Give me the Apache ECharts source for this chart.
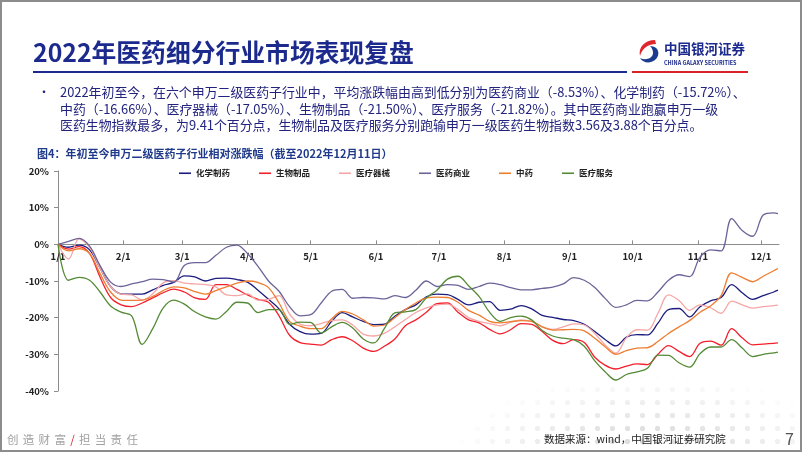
<!DOCTYPE html>
<html>
<head>
<meta charset="utf-8">
<script src="https://cdn.jsdelivr.net/npm/echarts@6/dist/echarts.min.js"></script>
<style>
html,body{margin:0;padding:0;background:#fff;}
#page{position:relative;width:802px;height:452px;overflow:hidden;background:#fff;font-family:"Noto Sans CJK SC","Noto Sans",sans-serif;}
#dots{position:absolute;left:440px;top:370px;width:362px;height:82px;z-index:0;
  background-image:radial-gradient(circle, #dedede 0, #dedede 2.3px, rgba(255,255,255,0) 3px);
  background-size:15px 13px;
  -webkit-mask-image:radial-gradient(ellipse 55% 95% at 58% 100%, rgba(0,0,0,1) 25%, rgba(0,0,0,0) 100%);
  mask-image:radial-gradient(ellipse 55% 95% at 58% 100%, rgba(0,0,0,1) 25%, rgba(0,0,0,0) 100%);}
#chart{position:absolute;left:0;top:0;width:802px;height:452px;z-index:1;}
#frame{position:absolute;left:0;top:0;width:802px;height:452px;box-sizing:border-box;border:2px solid #8c8c8c;pointer-events:none;z-index:5;}
.t{position:absolute;white-space:nowrap;z-index:3;}
.p{font-size:12.9px;color:#22237e;line-height:16.5px;left:60px;}
</style>
</head>
<body>
<div id="page">
  <div id="dots"></div>
  <div id="chart"></div>
  <div class="t" style="left:33px;top:35px;font-size:24.8px;font-weight:700;color:#1b2a8c;line-height:33px;">2022年医药细分行业市场表现复盘</div>
  <svg class="t" style="left:638px;top:39px" width="24" height="26" viewBox="0 0 24 26">
    <path d="M17 1 C7 1 0 8 2 17 C4 10 9 5 18 5 Z" fill="#e0262d"/>
    <path d="M12 7 C21 7 23 16 17 21 C12 25 5 24 2 19 C8 22 15 19 15 14 C15 11 14 9 12 7 Z" fill="#1b3b8f"/>
  </svg>
  <div class="t" style="left:664px;top:40px;font-size:13.5px;font-weight:700;color:#1b2a8c;line-height:17px;">中国银河证券</div>
  <div class="t" style="left:664px;top:60px;font-size:5.5px;font-weight:700;color:#1b2a8c;line-height:7px;">CHINA GALAXY SECURITIES</div>
  <div class="t" style="left:33px;top:71px;width:594px;height:2px;background:#1b2a8c;"></div>
  <div class="t" style="left:632px;top:71px;width:116px;height:2px;background:#d8232a;"></div>
  <div class="t" style="left:38px;top:84px;font-size:12px;color:#22237e;line-height:16px;">•</div>
  <div class="t p" style="top:84px;">2022年初至今，在六个申万二级医药子行业中，平均涨跌幅由高到低分别为医药商业（-8.53%）、化学制药（-15.72%）、</div>
  <div class="t p" style="top:100.5px;">中药（-16.66%）、医疗器械（-17.05%）、生物制品（-21.50%）、医疗服务（-21.82%）。其中医药商业跑赢申万一级</div>
  <div class="t p" style="top:117px;">医药生物指数最多，为9.41个百分点，生物制品及医疗服务分别跑输申万一级医药生物指数3.56及3.88个百分点。</div>
  <div class="t" style="left:37px;top:145px;font-size:11px;font-weight:700;color:#1f3a8a;line-height:16px;">图4：年初至今申万二级医药子行业相对涨跌幅（截至2022年12月11日）</div>
  <div class="t" style="left:7px;top:431px;font-size:11.5px;color:#a0a0a0;line-height:16px;letter-spacing:4.3px;">创造财富<span style="color:#d8232a">/</span>担当责任</div>
  <div class="t" style="left:544px;top:431px;font-size:10.5px;color:#222;line-height:16px;">数据来源：wind，中国银河证券研究院</div>
  <div class="t" style="left:785px;top:428px;font-size:16px;color:#555;line-height:20px;">7</div>
  <div id="frame"></div>
</div>
<script>
// Dates (5-day sampling through 2022-12-09)
const dates = [
'2022-01-01','2022-01-06','2022-01-11','2022-01-16','2022-01-21','2022-01-26','2022-01-31',
'2022-02-05','2022-02-10','2022-02-15','2022-02-20','2022-02-25',
'2022-03-02','2022-03-07','2022-03-12','2022-03-17','2022-03-22','2022-03-27',
'2022-04-01','2022-04-06','2022-04-11','2022-04-16','2022-04-21','2022-04-26',
'2022-05-01','2022-05-06','2022-05-11','2022-05-16','2022-05-21','2022-05-26','2022-05-31',
'2022-06-05','2022-06-10','2022-06-15','2022-06-20','2022-06-25','2022-06-30',
'2022-07-05','2022-07-10','2022-07-15','2022-07-20','2022-07-25','2022-07-30',
'2022-08-04','2022-08-09','2022-08-14','2022-08-19','2022-08-24','2022-08-29',
'2022-09-03','2022-09-08','2022-09-13','2022-09-18','2022-09-23','2022-09-28',
'2022-10-03','2022-10-08','2022-10-13','2022-10-18','2022-10-23','2022-10-28',
'2022-11-02','2022-11-07','2022-11-12','2022-11-17','2022-11-22','2022-11-27',
'2022-12-02','2022-12-07','2022-12-09'
];

// 化学制药
const chemPharma = [
0,-0.8,-0.2,-1.5,-6.5,-11.5,-13.5,
-13.6,-13.6,-12.4,-11.2,-10.4,
-8.6,-8.9,-10.0,-9.3,-9.2,-9.6,
-10.3,-12.5,-15.0,-17.6,-21.8,-23.8,
-24.5,-24.3,-21.0,-18.6,-19.8,-21.0,-21.9,
-21.8,-19.6,-17.8,-16.5,-14.3,-13.6,
-13.7,-15.0,-16.5,-15.8,-15.6,-18.0,
-17.7,-16.7,-17.6,-19.4,-19.9,-20.5,
-20.8,-21.8,-23.8,-26.0,-27.7,-25.3,
-24.6,-24.7,-21.5,-17.8,-17.5,-19.8,
-17.0,-15.4,-14.5,-11.0,-13.2,-15.0,
-14.0,-13.0,-12.5
];

// 生物制品
const biologics = [
0,-1.3,-0.6,-2.5,-9.0,-14.5,-16.5,
-17.0,-16.0,-14.6,-13.2,-12.2,
-13.0,-14.6,-15.0,-11.0,-11.0,-12.3,
-13.8,-15.0,-15.8,-19.5,-24.8,-26.8,
-27.2,-27.5,-26.0,-25.2,-26.3,-28.3,-29.2,
-27.8,-25.8,-22.2,-20.6,-18.5,-16.2,
-16.0,-18.5,-20.6,-21.4,-23.2,-24.4,
-23.3,-21.6,-21.8,-23.8,-26.2,-27.1,
-26.0,-26.8,-30.8,-33.0,-34.0,-33.2,
-32.6,-32.8,-30.0,-27.6,-29.2,-30.6,
-27.0,-26.4,-27.5,-23.0,-25.5,-27.4,
-27.2,-27.0,-26.9
];

// 医疗器械
const medDevices = [
0,-4.0,1.5,-0.8,-6.5,-11.5,-13.6,
-13.8,-15.2,-13.5,-10.5,-9.9,
-10.6,-10.8,-11.0,-11.6,-13.8,-14.0,
-13.5,-15.2,-15.0,-14.0,-19.0,-21.8,
-22.2,-21.6,-20.8,-20.6,-22.0,-24.5,-25.0,
-24.3,-22.5,-20.5,-18.6,-17.3,-16.5,
-16.3,-17.8,-20.0,-21.0,-21.6,-22.2,
-21.3,-20.6,-21.0,-22.5,-23.2,-22.5,
-21.7,-22.0,-24.3,-27.5,-29.7,-25.5,
-23.3,-23.4,-18.8,-13.8,-15.3,-18.0,
-16.5,-17.3,-18.8,-15.5,-16.5,-17.4,
-17.0,-16.7,-16.6
];

// 医药商业
const pharmaCommerce = [
0,0.8,1.6,-0.5,-5.8,-10.3,-11.5,
-10.8,-10.2,-9.5,-9.6,-10.3,
-5.8,-5.0,-5.0,-3.0,-0.8,-0.2,
-2.5,-6.0,-10.0,-12.8,-17.0,-19.5,
-19.2,-16.0,-12.8,-12.3,-14.7,-14.5,-14.6,
-14.9,-14.0,-14.5,-12.5,-10.0,-11.5,
-11.0,-11.2,-12.3,-11.5,-10.6,-11.0,
-11.8,-12.4,-12.4,-12.0,-11.7,-10.8,
-9.1,-9.8,-11.8,-14.8,-17.2,-16.5,
-15.3,-15.4,-13.0,-9.8,-8.3,-8.8,
-3.5,-1.5,-1.8,7.0,3.8,2.2,
8.0,8.6,8.4
];

// 中药
const tcm = [
0,-1.8,-1.2,-2.5,-8.0,-13.0,-15.2,
-15.3,-15.2,-14.2,-12.6,-11.6,
-11.9,-12.9,-13.6,-12.6,-11.6,-10.6,
-10.0,-10.4,-11.8,-16.0,-21.0,-22.3,
-23.0,-23.0,-20.3,-18.3,-19.0,-20.6,-22.3,
-22.0,-20.0,-17.8,-16.0,-14.6,-14.4,
-14.5,-15.8,-18.0,-19.3,-21.0,-21.4,
-21.1,-20.8,-21.0,-22.5,-23.4,-23.3,
-23.2,-23.6,-25.6,-28.0,-30.0,-29.0,
-28.3,-28.2,-26.5,-24.3,-22.5,-20.8,
-18.5,-16.8,-14.0,-7.8,-9.0,-10.2,
-8.7,-7.2,-6.6
];

// 医疗服务
const medServices = [
0,-9.8,-9.0,-9.8,-13.0,-16.8,-18.5,
-19.5,-27.3,-23.0,-17.3,-15.2,
-16.3,-18.4,-19.8,-20.4,-18.3,-15.8,
-16.0,-18.6,-17.8,-17.8,-21.8,-21.2,
-21.3,-24.2,-22.5,-21.3,-22.8,-25.8,-26.9,
-23.0,-18.7,-18.4,-17.8,-14.6,-12.5,
-9.5,-8.7,-11.3,-14.2,-18.5,-21.0,
-20.0,-19.6,-20.6,-23.5,-25.0,-25.6,
-26.0,-27.8,-31.8,-34.8,-37.0,-35.5,
-34.8,-33.8,-30.2,-30.3,-32.3,-33.5,
-29.8,-28.0,-28.0,-26.0,-28.3,-30.6,
-30.0,-29.6,-29.4
];

const seriesNames = ['化学制药','生物制品','医疗器械','医药商业','中药','医疗服务'];
const seriesValues = [chemPharma, biologics, medDevices, pharmaCommerce, tcm, medServices];
const seriesColors = ['#1c1c7e','#f3202c','#f5a6a6','#6c6499','#ee7d31','#548a36'];
const monthTickDates = ['2022-01-01','2022-02-01','2022-03-01','2022-04-01','2022-05-01','2022-06-01','2022-07-01','2022-08-01','2022-09-01','2022-10-01','2022-11-01','2022-12-01'];
const yMin = -40, yMax = 20, yStep = 10;

function toLocalTs(s){const p=s.split('-');return new Date(+p[0],+p[1]-1,+p[2]).getTime();}
const monthTicks = monthTickDates.map(toLocalTs);
const xMin = toLocalTs('2022-01-01');
const xMax = toLocalTs('2022-12-09') + 12*3600*1000;

const gridTop = 171, gridBottom = 61, pageH = 452;
// lift the x axis from the bottom of the grid up to the 0% level
const plotH = pageH - gridTop - gridBottom;
const zeroOffset = -plotH * (0 - yMin) / (yMax - yMin);

const font = '"Noto Sans CJK SC","Noto Sans",sans-serif';
function mdFmt(v){const d=new Date(v);return (d.getMonth()+1)+'/'+d.getDate();}

function buildOption(useCustom){
  const common = {
    axisLine:{onZero:false,lineStyle:{color:'#8c8c8c',width:1}},
    offset:zeroOffset,
    splitLine:{show:false}
  };
  const xAxis = useCustom ? Object.assign({
    type:'value', min:xMin, max:xMax,
    axisTick:{show:true,inside:true,length:4,lineStyle:{color:'#8c8c8c'},customValues:monthTicks},
    axisLabel:{customValues:monthTicks,margin:7,fontFamily:font,fontSize:9.5,fontWeight:'bold',color:'#222',formatter:mdFmt}
  }, common) : Object.assign({
    type:'time', min:xMin, max:xMax, minInterval:28*86400000, maxInterval:31*86400000,
    axisTick:{show:true,inside:true,length:4,lineStyle:{color:'#8c8c8c'}},
    axisLabel:{margin:7,fontFamily:font,fontSize:9.5,fontWeight:'bold',color:'#222',formatter:mdFmt}
  }, common);
  return {
    animation:false,
    backgroundColor:'transparent',
    legend:{
      data:seriesNames,
      left:179, top:169, padding:0,
      icon:'rect', itemWidth:12, itemHeight:1.6, itemGap:29,
      textStyle:{fontFamily:font,fontSize:8.5,fontWeight:'bold',color:'#222'}
    },
    grid:{left:58,right:23,top:gridTop,bottom:gridBottom,containLabel:false},
    xAxis:xAxis,
    yAxis:{
      type:'value',min:yMin,max:yMax,interval:yStep,
      axisLine:{show:true,onZero:false,lineStyle:{color:'#8c8c8c',width:1}},
      axisTick:{show:true,length:4,lineStyle:{color:'#8c8c8c'}},
      axisLabel:{formatter:'{value}%',margin:9,fontFamily:font,fontSize:9.5,fontWeight:'bold',color:'#222'},
      splitLine:{show:false}
    },
    series:seriesNames.map(function(name,i){
      return {
        name:name,type:'line',smooth:0.35,showSymbol:false,symbol:'none',
        data:dates.map(function(d,j){return [toLocalTs(d),seriesValues[i][j]];}),
        lineStyle:{width:1.3,color:seriesColors[i]},
        itemStyle:{color:seriesColors[i]}
      };
    })
  };
}

let chart = echarts.init(document.getElementById('chart'), null, {renderer:'canvas'});
try {
  chart.setOption(buildOption(true));
} catch(e) {
  chart.dispose();
  chart = echarts.init(document.getElementById('chart'), null, {renderer:'canvas'});
  chart.setOption(buildOption(false));
}
</script>
</body>
</html>
